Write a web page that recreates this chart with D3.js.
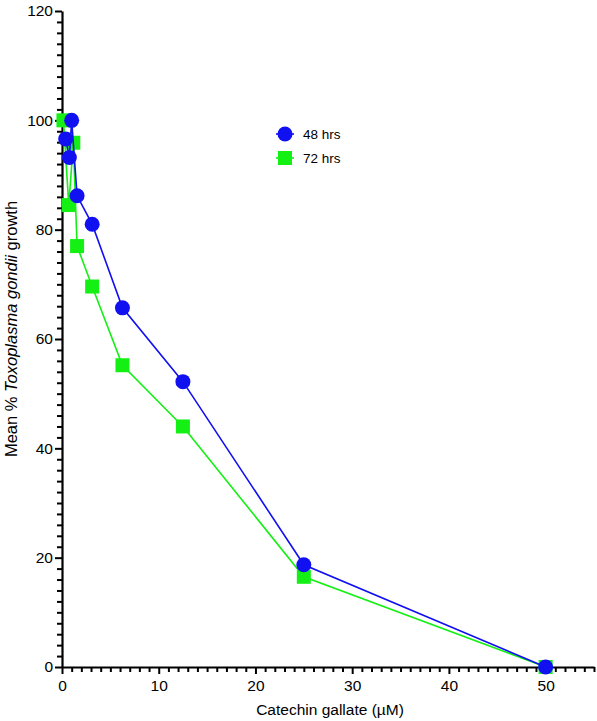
<!DOCTYPE html>
<html>
<head>
<meta charset="utf-8">
<script src="https://cdnjs.cloudflare.com/ajax/libs/d3/7.8.5/d3.min.js"></script>
<style>
  body { margin: 0; background: #fff; }
  svg { font-family: "Liberation Sans", Arial, sans-serif; }
</style>
</head>
<body>
<div id="chart"></div>
<script>
// data
let conc48 = [0.38, 0.76, 1.0, 1.56, 3.12, 6.25, 12.5, 25, 50]
let growth48 = [96.6, 93.2, 100, 86.2, 81.0, 65.7, 52.2, 18.7, 0]
let conc72 = [0.15, 0.7, 1.17, 1.56, 3.12, 6.25, 12.5, 25, 50]
let growth72 = [100, 84.5, 95.9, 77.0, 69.6, 55.2, 44.0, 16.5, 0]
let seriesNames = ['48 hrs', '72 hrs']
let xTicks = [0, 10, 20, 30, 40, 50]
let yTicks = [0, 20, 40, 60, 80, 100, 120]

let width = 597
let height = 721
let blue = '#1010f0'
let green = '#14f014'

let svg = d3.select('#chart').append('svg')
    .attr('width', width)
    .attr('height', height)

let xScale = d3.scaleLinear().domain([0, 55]).range([62, 594])
let yScale = d3.scaleLinear().domain([0, 120]).range([667, 11])

// -- minor ticks
let xMinor = d3.range(0, 56, 1).filter(d => d % 10 != 0)
let yMinor = d3.range(0, 121, 2).filter(d => d % 20 != 0)

svg.append('g')
    .attr('transform', 'translate(0,' + yScale(0) + ')')
    .call(d3.axisBottom(xScale).tickValues(xMinor).tickSize(5).tickFormat(''))
    .call(g => g.select('.domain').remove())
    .selectAll('line').attr('stroke-width', 2)

svg.append('g')
    .attr('transform', 'translate(' + xScale(0) + ',0)')
    .call(d3.axisLeft(yScale).tickValues(yMinor).tickSize(5).tickFormat(''))
    .call(g => g.select('.domain').remove())
    .selectAll('line').attr('stroke-width', 2)

// -- X axis
svg.append('g')
    .attr('transform', 'translate(0,' + yScale(0) + ')')
    .call(d3.axisBottom(xScale).tickValues(xTicks).tickSize(7).tickSizeOuter(0).tickPadding(6))
    .call(g => g.select('.domain').attr('stroke-width', 2.2))
    .call(g => g.selectAll('line').attr('stroke-width', 2))
    .call(g => g.selectAll('text').attr('font-size', 15.5).attr('fill', '#000'))

// -- Y axis
svg.append('g')
    .attr('transform', 'translate(' + xScale(0) + ',0)')
    .call(d3.axisLeft(yScale).tickValues(yTicks).tickSize(7).tickSizeOuter(0).tickPadding(2))
    .call(g => g.select('.domain').attr('stroke-width', 2.2))
    .call(g => g.selectAll('line').attr('stroke-width', 2))
    .call(g => g.selectAll('text').attr('font-size', 15.5).attr('fill', '#000'))

svg.append('text')
    .attr('x', 330)
    .attr('y', 715)
    .attr('text-anchor', 'middle')
    .attr('font-size', 15.5)
    .text('Catechin gallate (µM)')

let ylab = svg.append('text')
    .attr('transform', 'translate(17,329) rotate(-90)')
    .attr('text-anchor', 'middle')
    .attr('font-size', 16.5)
ylab.append('tspan').text('Mean % ')
ylab.append('tspan').attr('font-style', 'italic').text('Toxoplasma gondii')
ylab.append('tspan').text(' growth')

// -- lines and markers
let line = d3.line().x(d => xScale(d[0])).y(d => yScale(d[1]))
let pts48 = conc48.map((c, i) => [c, growth48[i]]).sort((a, b) => a[0] - b[0])
let pts72 = conc72.map((c, i) => [c, growth72[i]]).sort((a, b) => a[0] - b[0])

svg.append('path').datum(pts72).attr('d', line)
    .attr('fill', 'none').attr('stroke', green).attr('stroke-width', 1.6)
svg.selectAll('.sq').data(pts72).enter().append('rect')
    .attr('class', 'sq')
    .attr('x', d => xScale(d[0]) - 7)
    .attr('y', d => yScale(d[1]) - 7)
    .attr('width', 14).attr('height', 14)
    .attr('fill', green)

svg.append('path').datum(pts48).attr('d', line)
    .attr('fill', 'none').attr('stroke', blue).attr('stroke-width', 1.6)
svg.selectAll('.dot').data(pts48).enter().append('circle')
    .attr('class', 'dot')
    .attr('cx', d => xScale(d[0]))
    .attr('cy', d => yScale(d[1]))
    .attr('r', 7.5)
    .attr('fill', blue)

// -- legend
let legend = svg.append('g').attr('transform', 'translate(285,134)')
legend.append('line').attr('x1', -9).attr('x2', 9).attr('stroke', blue).attr('stroke-width', 1.6)
legend.append('circle').attr('r', 7.5).attr('fill', blue)
legend.append('text').attr('x', 18).attr('y', 5).attr('font-size', 13.5).text(seriesNames[0])
legend.append('line').attr('x1', -9).attr('x2', 9).attr('y1', 24).attr('y2', 24).attr('stroke', green).attr('stroke-width', 1.6)
legend.append('rect').attr('x', -7).attr('y', 17).attr('width', 14).attr('height', 14).attr('fill', green)
legend.append('text').attr('x', 18).attr('y', 29).attr('font-size', 13.5).text(seriesNames[1])
</script>
</body>
</html>
